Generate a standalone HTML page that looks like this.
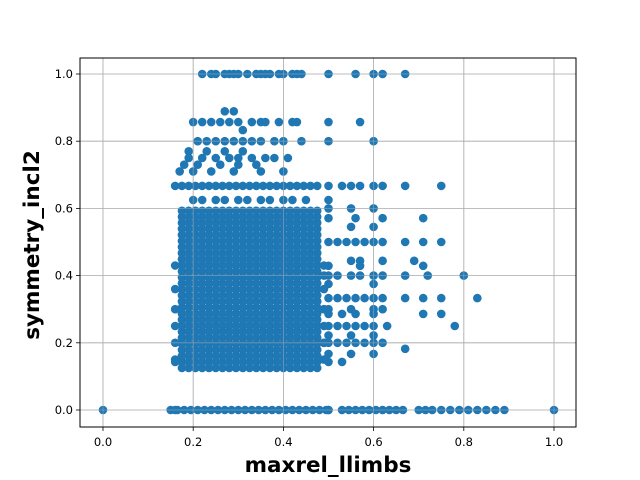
<!DOCTYPE html>
<html><head><meta charset="utf-8"><style>
body{margin:0;background:#fff}
svg{display:block;font-family:"DejaVu Sans","Liberation Sans",sans-serif}
</style></head><body>
<svg id="chart" width="640" height="480">
<rect x="0" y="0" width="640" height="480" fill="#fff"/>
<g id="grid"></g>
<g id="pts"></g>
<g id="grid2"></g>
<rect x="80" y="58" width="496" height="369" fill="none" stroke="#000" stroke-width="1"/>
<g id="ticks"></g>
<text x="328" y="472" text-anchor="middle" font-size="21.5" font-weight="bold">maxrel_llimbs</text>
<text transform="translate(39,245) rotate(-90)" text-anchor="middle" font-size="21.5" font-weight="bold">symmetry_incl2</text>
</svg>
<script>
const xTicks=[0,0.2,0.4,0.6,0.8,1.0];
const yTicks=[0,0.2,0.4,0.6,0.8,1.0];
const xTickLabels=["0.0","0.2","0.4","0.6","0.8","1.0"];
const yTickLabels=["0.0","0.2","0.4","0.6","0.8","1.0"];
// dense core cloud
const denseX=[0.175,0.19,0.205,0.22,0.235,0.25,0.265,0.28,0.295,0.31,0.325,0.34,0.355,0.37,0.385,0.4,0.415,0.43,0.445,0.46,0.475];
const denseY=[0.125,0.143,0.161,0.179,0.197,0.215,0.233,0.251,0.269,0.287,0.305,0.323,0.341,0.359,0.377,0.395,0.413,0.431,0.449,0.467,0.485,0.503,0.521,0.539,0.557,0.575,0.593];
const rowY=[0,0,0,1.0,0.889,0.857,0.833,0.8,0.77,0.75,0.73,0.71,0.667,0.667,0.625,0.6,0.571,0.545,0.5,0.5,0.444,0.429,0.4,0.4,0.375,0.333,0.333,0.3,0.286,0.25,0.25,0.222,0.2,0.182,0.167,0.143,0.43,0.36,0.3,0.25,0.2,0.15,0.4,0.3,0.2];
const rowX=[
[0,0.15,0.165,0.18,0.195,0.21,0.225,0.24,0.255,0.27,0.285,0.3,0.315,0.33,0.345,0.36,0.375,0.39,0.405,0.42,0.435,0.45,0.465,0.48,0.495,1.0],
[0.5,0.53,0.545,0.56,0.575,0.59,0.605,0.62,0.635,0.65,0.665,0.7,0.715,0.73,0.75,0.77,0.79,0.81,0.83,0.85,0.87,0.89],
[0.16,0.5],
[0.22,0.24,0.25,0.27,0.28,0.29,0.3,0.32,0.34,0.35,0.36,0.37,0.39,0.4,0.42,0.43,0.44,0.5,0.56,0.6,0.62,0.67],
[0.27,0.29],
[0.2,0.22,0.24,0.26,0.28,0.3,0.33,0.35,0.36,0.39,0.42,0.43,0.5,0.57],
[0.31],
[0.21,0.23,0.25,0.27,0.29,0.31,0.33,0.35,0.38,0.4,0.44,0.5,0.6],
[0.19,0.23,0.27,0.31],
[0.19,0.22,0.25,0.28,0.3,0.33,0.36,0.38,0.41],
[0.18,0.21,0.26,0.3,0.34],
[0.17,0.2,0.24,0.29,0.35,0.4],
[0.16,0.175,0.19,0.205,0.22,0.235,0.25,0.265,0.28,0.295,0.31,0.325,0.34,0.355,0.37,0.385,0.4,0.415,0.43,0.445,0.46,0.475],
[0.5,0.53,0.55,0.57,0.6,0.62,0.67,0.75],
[0.2,0.22,0.25,0.27,0.3,0.32,0.35,0.37,0.4,0.42,0.45,0.5],
[0.5,0.55,0.6],
[0.5,0.56,0.62,0.71],
[0.55,0.6],
[0.5,0.52,0.54,0.56,0.58,0.6,0.62,0.67],
[0.71,0.75],
[0.55,0.57,0.62,0.69],
[0.5,0.57,0.71],
[0.5,0.52,0.55,0.57,0.6,0.62,0.67],
[0.72,0.8],
[0.5,0.6],
[0.5,0.52,0.54,0.56,0.58,0.6,0.62,0.67],
[0.71,0.75,0.83],
[0.5,0.55,0.6,0.62],
[0.5,0.53,0.56,0.6,0.71,0.75],
[0.5,0.52,0.54,0.56,0.58,0.6,0.63],
[0.78],
[0.5,0.55,0.6],
[0.5,0.52,0.54,0.56,0.58,0.6,0.62],
[0.67],
[0.5,0.55,0.6],
[0.16,0.5,0.53],
[0.16,0.49],
[0.16,0.49],
[0.16,0.49],
[0.49,0.16],
[0.49,0.16],
[0.16,0.49],
[0.49],
[0.49],
[0.49]
];
const px=x=>103+451*x, py=y=>410-336*y;
const NS="http://www.w3.org/2000/svg";
const grid=document.getElementById('grid'), grid2=document.getElementById('grid2'), ticks=document.getElementById('ticks'), pts=document.getElementById('pts');
function mk(tag,a,p){const e=document.createElementNS(NS,tag);for(const k in a)e.setAttribute(k,a[k]);p.appendChild(e);return e;}
xTicks.forEach((v,i)=>{
 const l=mk('line',{x1:px(v),x2:px(v),y1:58,y2:427,stroke:'#b0b0b0','stroke-width':0.8},grid);
 
 
 const l2=mk('line',{x1:px(v),x2:px(v),y1:58,y2:427,stroke:'#b0b0b0','stroke-width':0.8,'stroke-opacity':0.6},grid2);
 
 
 const t=mk('line',{x1:px(v),x2:px(v),y1:427,y2:431,stroke:'#000','stroke-width':0.8},ticks);
 
 
 const tx=mk('text',{x:px(v),y:446,'text-anchor':'middle','font-size':11.5},ticks);
 tx.textContent=xTickLabels[i];
 
 
});
yTicks.forEach((v,i)=>{
 const l=mk('line',{x1:80,x2:576,y1:py(v),y2:py(v),stroke:'#b0b0b0','stroke-width':0.8},grid);
 
 
 const l2=mk('line',{x1:80,x2:576,y1:py(v),y2:py(v),stroke:'#b0b0b0','stroke-width':0.8,'stroke-opacity':0.6},grid2);
 
 
 const t=mk('line',{x1:76,x2:80,y1:py(v),y2:py(v),stroke:'#000','stroke-width':0.8},ticks);
 
 
 const tx=mk('text',{x:73,y:py(v)+4,'text-anchor':'end','font-size':11.5},ticks);
 tx.textContent=yTickLabels[i];
 
 
});
function dot(x,y){
 const c=mk('circle',{cx:px(x),cy:py(y),r:4.3,fill:'#1f77b4'},pts);
 
 
}
denseY.forEach(y=>denseX.forEach(x=>dot(x,y)));
rowY.forEach((y,i)=>rowX[i].forEach(x=>dot(x,y)));
</script>
</body></html>
